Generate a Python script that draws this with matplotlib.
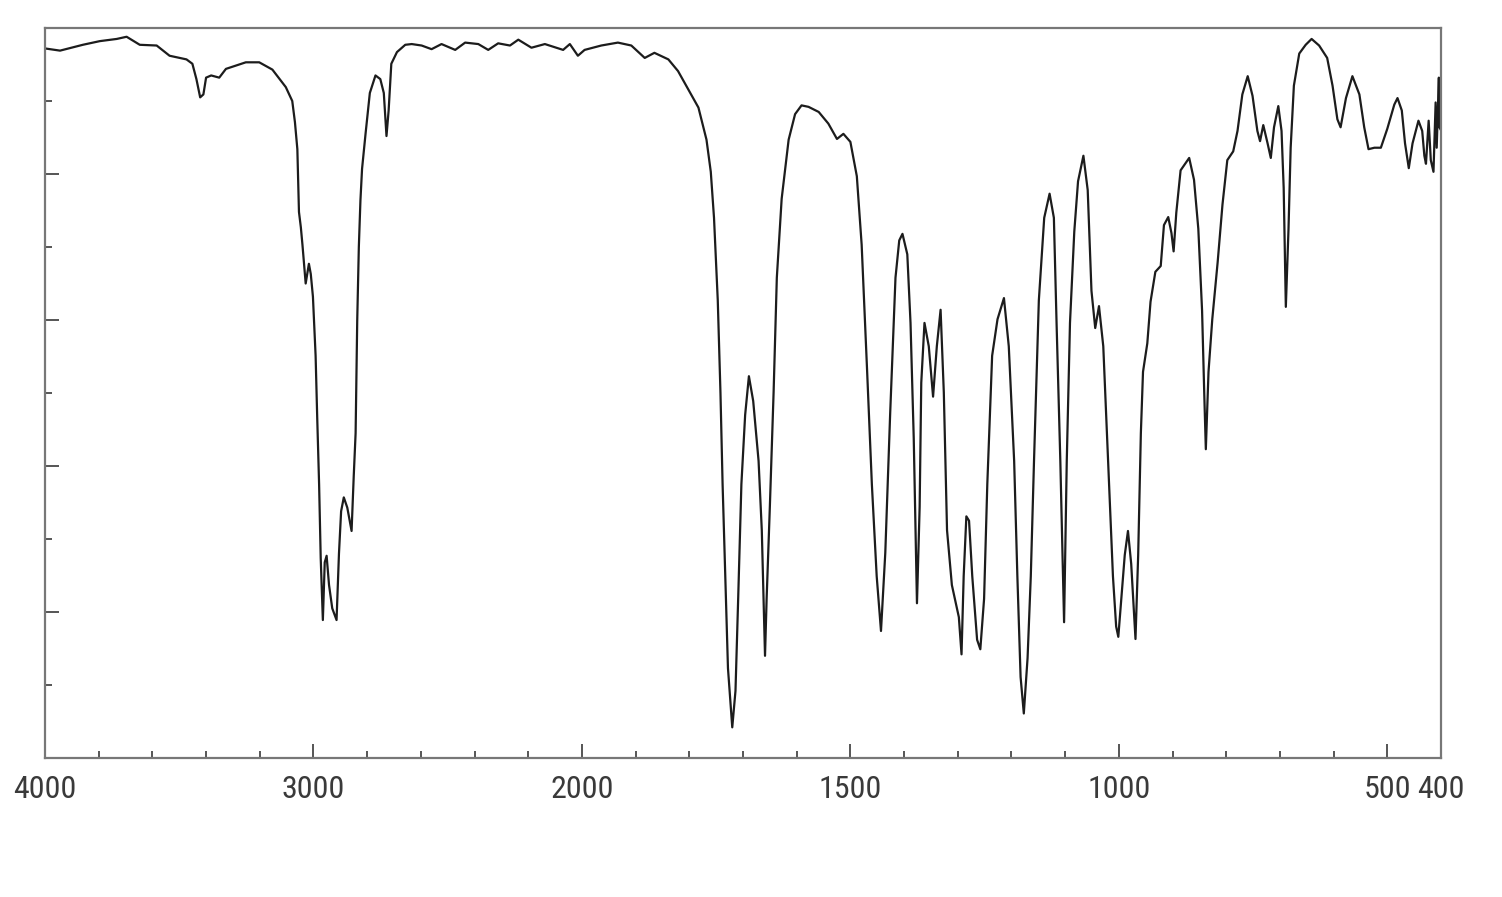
import numpy as np
import matplotlib
matplotlib.use("Agg")
import matplotlib.pyplot as plt
from matplotlib.ticker import FixedLocator, NullFormatter

# IR spectrum: wavenumber (cm-1) and transmittance (%)
wavenumber = [
    4000, 3944, 3859, 3796, 3733, 3696, 3647, 3584, 3536, 3473, 3451, 3436, 3422, 3410,
    3400, 3381, 3351, 3326, 3252, 3202, 3153, 3103, 3079, 3069, 3060, 3054, 3047, 3041,
    3029, 3017, 3010, 3002, 2992, 2986, 2979, 2973, 2965, 2958, 2951, 2942, 2930, 2914,
    2905, 2897, 2887, 2874, 2858, 2850, 2843, 2837, 2831, 2825, 2819, 2806, 2790, 2769,
    2751, 2738, 2728, 2720, 2710, 2689, 2658, 2634, 2597, 2560, 2523, 2472, 2435, 2386,
    2349, 2312, 2268, 2237, 2188, 2138, 2070, 2045, 2015, 1995, 1964, 1933, 1908, 1883,
    1865, 1839, 1821, 1802, 1783, 1768, 1760, 1754, 1747, 1742, 1738, 1733, 1728, 1720,
    1714, 1709, 1703, 1696, 1689, 1681, 1671, 1665, 1659, 1656, 1650, 1643, 1637, 1628,
    1615, 1603, 1591, 1578, 1559, 1541, 1525, 1513, 1500, 1488, 1479, 1469, 1460, 1451,
    1443, 1435, 1426, 1416, 1409, 1403, 1394, 1388, 1382, 1376, 1371, 1368, 1362, 1354,
    1346, 1339, 1332, 1326, 1320, 1311, 1298, 1293, 1289, 1284, 1279, 1273, 1264, 1258,
    1251, 1245, 1236, 1226, 1214, 1205, 1195, 1189, 1183, 1177, 1170, 1164, 1158, 1149,
    1139, 1129, 1121, 1116, 1109, 1102, 1097, 1091, 1083, 1076, 1066, 1058, 1051, 1044,
    1037, 1029, 1020, 1011, 1005, 1001, 995, 989, 983, 977, 969, 964, 959, 955,
    947, 941, 932, 922, 916, 908, 902, 898, 893, 885, 869, 860, 852, 845,
    841, 838, 833, 826, 816, 807, 798, 787, 779, 770, 760, 751, 742, 737,
    731, 723, 717, 711, 703, 697, 693, 689, 684, 680, 674, 664, 652, 641,
    627, 612, 602, 593, 587, 577, 565, 552, 543, 535, 524, 512, 500, 487,
    481, 473, 467, 460, 453, 442, 435, 431, 428, 423, 419, 414, 410, 408,
    404, 403, 400,
]
transmittance = [
    97.2, 96.9, 97.7, 98.2, 98.5, 98.8, 97.7, 97.6, 96.2, 95.7, 95.1, 93.0, 90.5, 90.9,
    93.2, 93.5, 93.2, 94.4, 95.3, 95.3, 94.3, 91.9, 90.0, 87.1, 83.4, 74.8, 72.7, 70.3,
    65.0, 67.7, 66.3, 63.2, 55.1, 46.6, 37.5, 27.4, 18.9, 26.8, 27.7, 23.7, 20.5, 18.9,
    28.0, 33.8, 35.7, 34.3, 31.1, 38.6, 44.5, 59.9, 70.0, 76.4, 80.7, 85.5, 91.1, 93.5,
    93.0, 91.1, 85.2, 88.7, 95.1, 96.7, 97.7, 97.8, 97.6, 97.1, 97.8, 97.0, 98.0, 97.8,
    97.0, 97.9, 97.6, 98.4, 97.3, 97.8, 97.0, 97.8, 96.2, 97.0, 97.6, 98.0, 97.6, 95.9,
    96.6, 95.7, 94.1, 91.6, 89.1, 84.7, 80.3, 74.0, 62.7, 50.1, 37.5, 24.9, 12.3, 4.2,
    9.2, 21.8, 37.5, 47.0, 52.3, 48.9, 40.7, 31.2, 14.0, 21.8, 34.4, 50.1, 65.8, 76.6,
    84.7, 88.2, 89.4, 89.2, 88.5, 86.9, 84.8, 85.5, 84.4, 79.7, 70.3, 53.3, 37.5, 24.9,
    17.4, 28.1, 47.0, 65.8, 70.9, 71.8, 69.0, 59.6, 43.8, 21.2, 34.4, 51.4, 59.6, 56.4,
    49.5, 56.4, 61.4, 50.1, 31.2, 23.7, 19.3, 14.2, 24.9, 33.1, 32.5, 24.9, 16.2, 14.9,
    21.8, 37.5, 55.1, 60.1, 63.0, 56.4, 40.7, 24.9, 11.1, 6.1, 13.7, 24.9, 40.7, 62.7,
    74.0, 77.3, 74.0, 59.6, 40.7, 18.6, 40.7, 59.6, 72.1, 79.0, 82.5, 77.8, 64.0, 58.9,
    61.9, 56.4, 40.7, 24.9, 18.0, 16.6, 22.2, 27.8, 31.1, 26.6, 16.3, 27.8, 44.5, 52.9,
    56.8, 62.5, 66.6, 67.4, 73.0, 74.1, 71.9, 69.4, 74.7, 80.5, 82.2, 79.2, 72.5, 61.3,
    50.1, 42.3, 52.9, 60.1, 67.9, 75.8, 81.9, 83.1, 85.9, 90.9, 93.4, 90.7, 85.9, 84.5,
    86.7, 84.2, 82.2, 86.4, 89.3, 85.9, 78.1, 61.8, 72.5, 83.6, 92.1, 96.5, 97.7, 98.5,
    97.6, 95.9, 92.1, 87.5, 86.4, 90.4, 93.4, 90.9, 86.4, 83.4, 83.6, 83.6, 86.2, 89.5,
    90.4, 88.7, 84.2, 80.8, 84.2, 87.3, 85.9, 82.5, 81.4, 87.3, 81.9, 80.3, 89.8, 83.6,
    93.2, 86.4, 86.0,
]

x_major = [4000, 3000, 2000, 1500, 1000, 500, 400]
x_labels = ["4000", "3000", "2000", "1500", "1000", "500", "400"]
x_minor = [3800, 3600, 3400, 3200, 2800, 2600, 2400, 2200,
           1900, 1800, 1700, 1600, 1400, 1300, 1200, 1100,
           900, 800, 700, 600]
y_major = [20, 40, 60, 80]
y_minor = [10, 30, 50, 70, 90]


def fwd(w):
    w = np.asarray(w, dtype=float)
    return np.where(w >= 2000, w, 2 * w - 2000)


def inv(v):
    v = np.asarray(v, dtype=float)
    return np.where(v >= 2000, v, (v + 2000) / 2)


fig = plt.figure(figsize=(15.02, 8.97), dpi=100)
ax = fig.add_axes([45 / 1502, 1 - 758 / 897, (1441 - 45) / 1502, (758 - 28) / 897])
ax.set_xscale("function", functions=(fwd, inv))
ax.plot(wavenumber, transmittance, color="#1c1c1c", lw=1.6)
ax.set_xlim(4000, 400)
ax.set_ylim(0, 100)

ax.xaxis.set_major_locator(FixedLocator(x_major))
ax.set_xticklabels(x_labels)
ax.xaxis.set_minor_locator(FixedLocator(x_minor))
ax.xaxis.set_minor_formatter(NullFormatter())
ax.yaxis.set_major_locator(FixedLocator(y_major))
ax.yaxis.set_minor_locator(FixedLocator(y_minor))
ax.yaxis.set_major_formatter(NullFormatter())
ax.yaxis.set_minor_formatter(NullFormatter())

tick_col = "#555555"
ax.tick_params(axis="both", which="major", direction="in", length=10, width=1.4,
               color=tick_col, pad=12)
ax.tick_params(axis="both", which="minor", direction="in", length=5, width=1.4,
               color=tick_col)
for lab in ax.get_xticklabels():
    lab.set_family(["Roboto Condensed", "Liberation Sans Narrow",
                    "DejaVu Sans Condensed", "DejaVu Sans"])
    lab.set_fontstretch("condensed")
    lab.set_fontsize(23)
    lab.set_color("#3a3a3a")

for s in ax.spines.values():
    s.set_color("#777777")
    s.set_linewidth(1.6)

fig.savefig("out.png", dpi=100, facecolor="white")
